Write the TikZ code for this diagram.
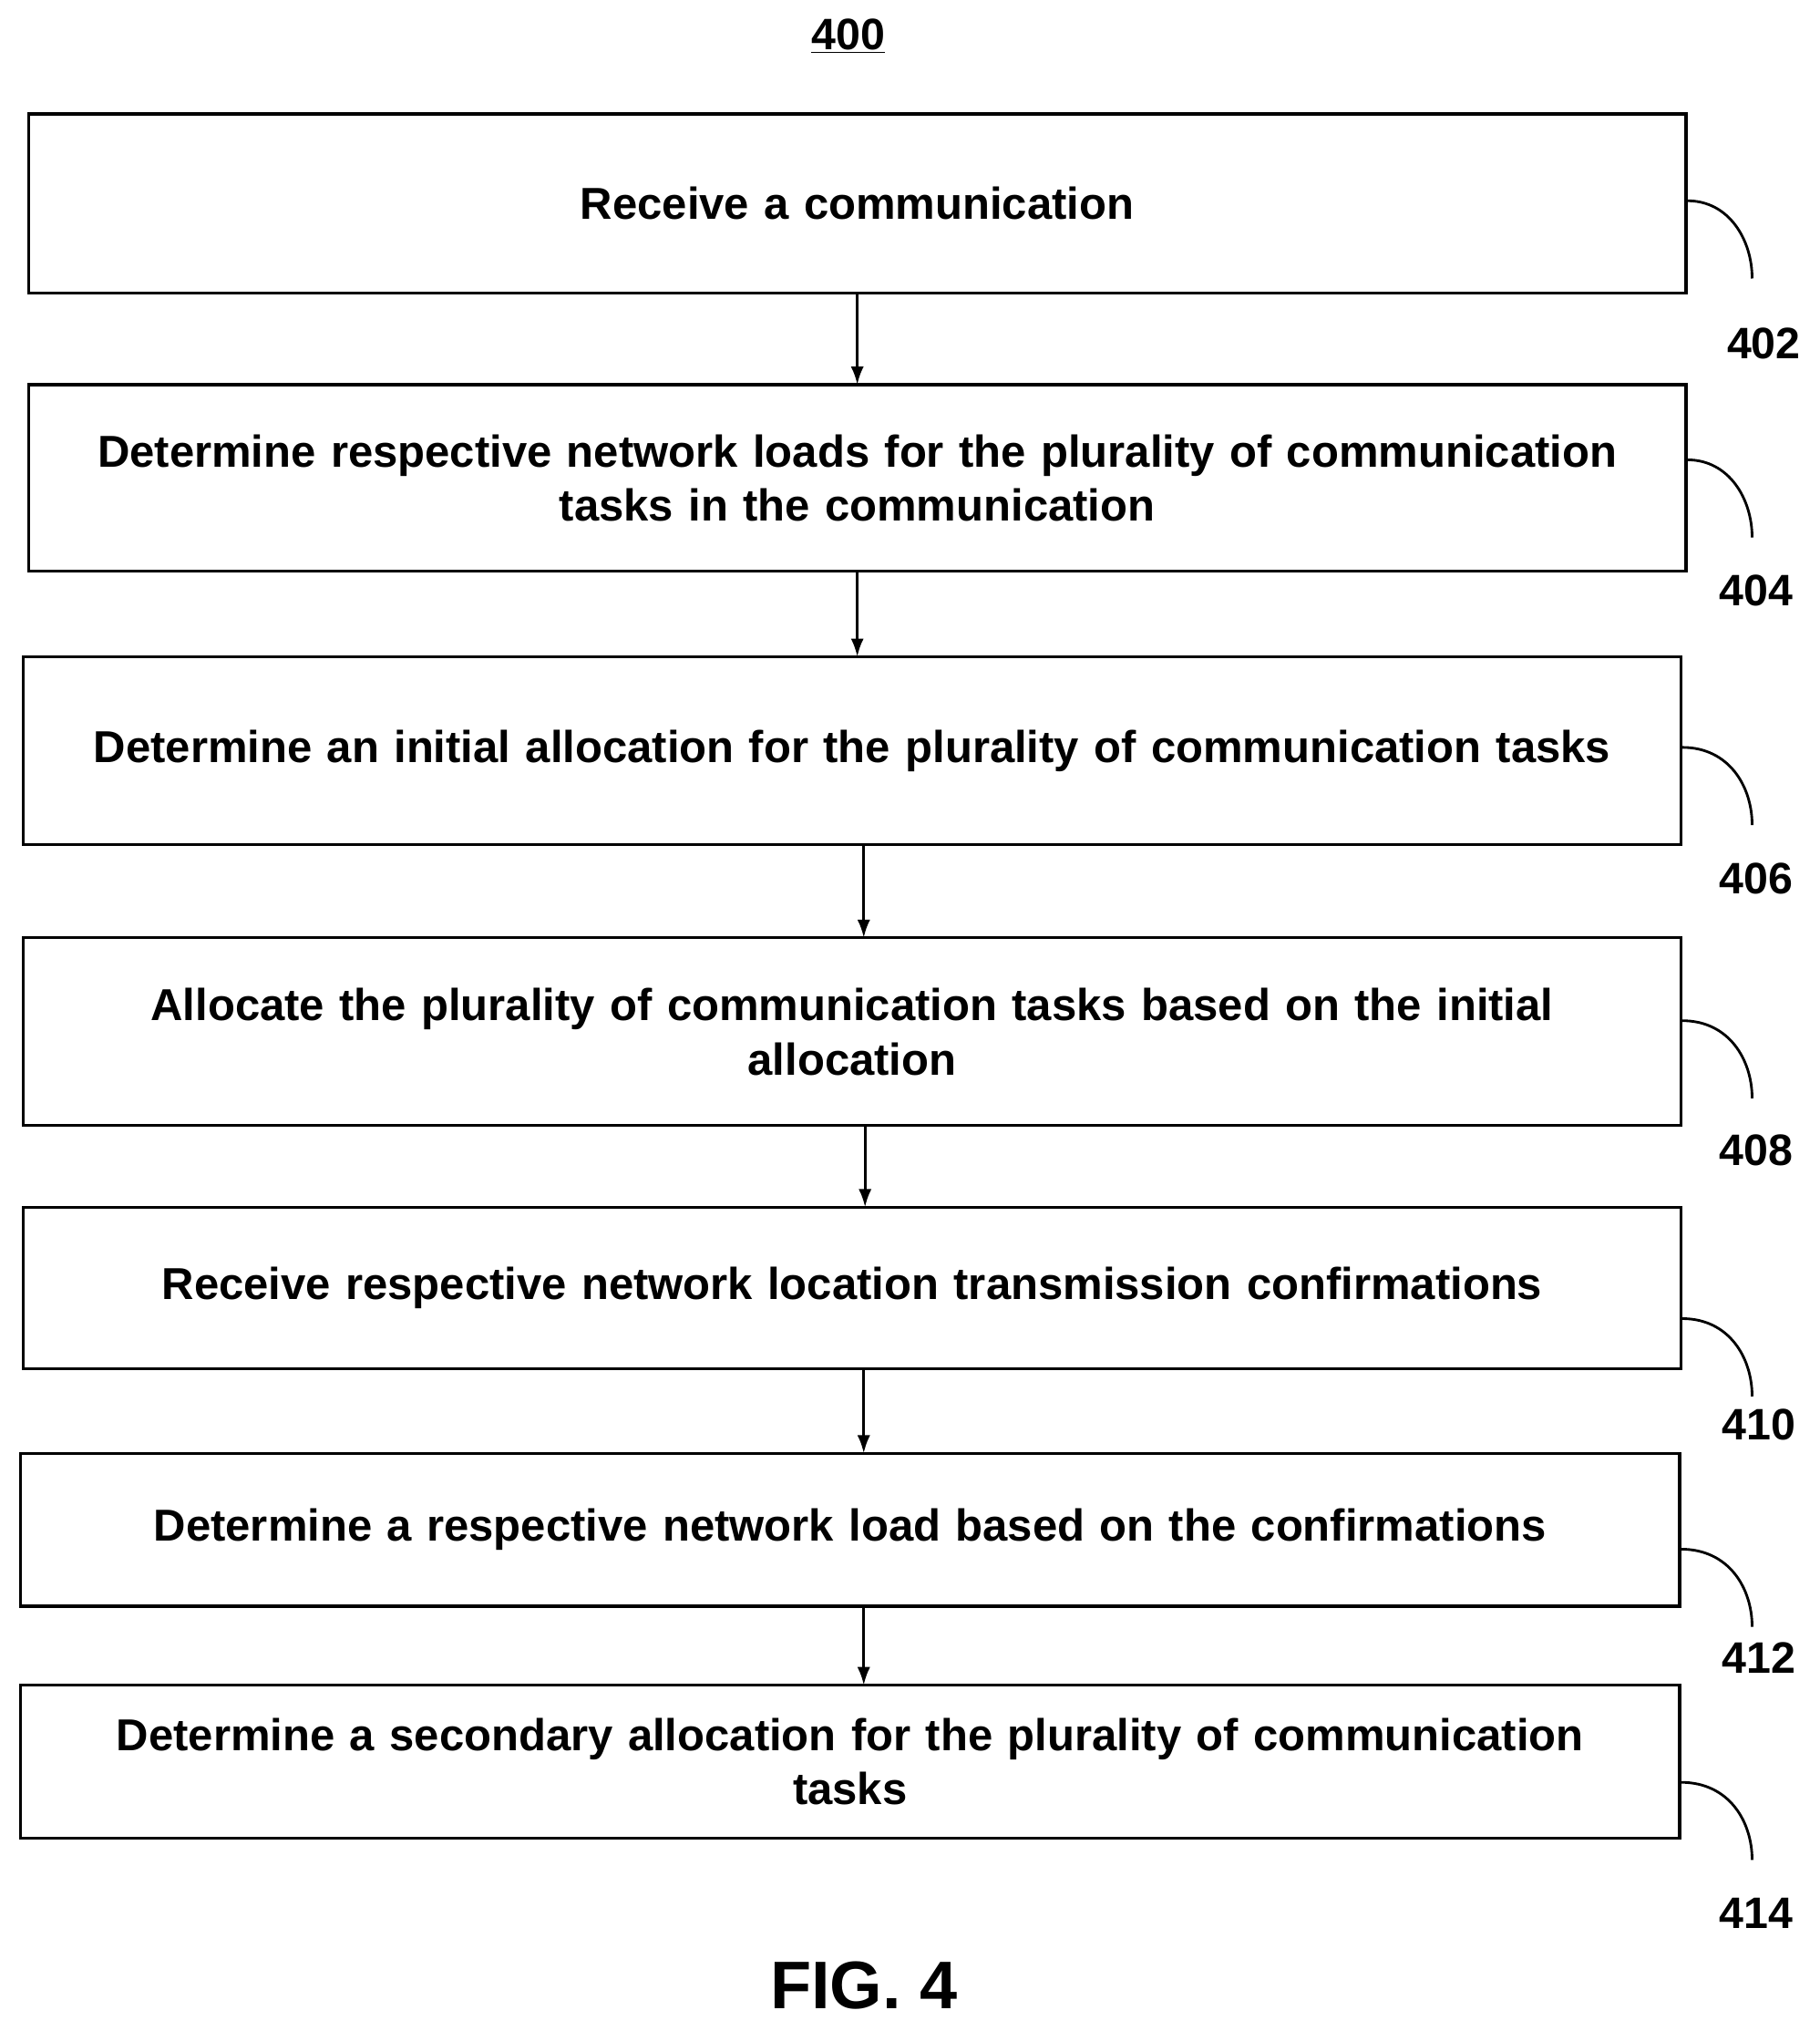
\documentclass[tikz,border=0pt]{standalone}
\usepackage{fontspec}
\setmainfont{Liberation Sans}
\usetikzlibrary{arrows.meta}
\begin{document}
\begin{tikzpicture}[x=1pt,y=-1pt,
  box/.style={draw,line width=2.2pt,inner sep=0pt},
  txt/.style={font=\fontsize{34.5}{42}\selectfont\bfseries,align=center,text width=1270pt},
  lbl/.style={font=\fontsize{34}{40}\selectfont\bfseries},
  arr/.style={-{Latex[length=14pt,width=10pt]},line width=2pt},
  hook/.style={line width=2pt}]
\useasboundingbox (0,0) rectangle (1405,1568);
\node (t) at (655,28) {\fontsize{34}{40}\selectfont\bfseries\underline{400}};
\node[box,minimum width=1280pt,minimum height=138pt] (b1) at (662,157) {};
\node[txt] at (b1) {Receive a communication};
\node[box,minimum width=1280pt,minimum height=144pt] (b2) at (662,369) {};
\node[txt] at (b2) {Determine respective network loads for the plurality of communication\\tasks in the communication};
\node[box,minimum width=1280pt,minimum height=145pt] (b3) at (658,579.5) {};
\node[txt] at (b3) {Determine an initial allocation for the plurality of communication tasks};
\node[box,minimum width=1280pt,minimum height=145pt] (b4) at (658,796.5) {};
\node[txt] at (b4) {Allocate the plurality of communication tasks based on the initial\\allocation};
\node[box,minimum width=1280pt,minimum height=125pt] (b5) at (658,994.5) {};
\node[txt] at (b5) {Receive respective network location transmission confirmations};
\node[box,minimum width=1281pt,minimum height=118pt] (b6) at (656.5,1181) {};
\node[txt] at (b6) {Determine a respective network load based on the confirmations};
\node[box,minimum width=1281pt,minimum height=118pt] (b7) at (656.5,1360) {};
\node[txt] at (b7) {Determine a secondary allocation for the plurality of communication\\tasks};
\draw[arr] (b1.south -| 662,0) -- (662,297);
\draw[arr] (b2.south -| 662,0) -- (662,507);
\draw[arr] (b3.south -| 667,0) -- (667,724);
\draw[arr] (b4.south -| 668,0) -- (668,932);
\draw[arr] (b5.south -| 667,0) -- (667,1122);
\draw[arr] (b6.south -| 667,0) -- (667,1301);
\foreach \n/\ya/\yb/\xl/\yl/\tx in {1/155/215/1362/265/402,2/355/415/1356/456/404,3/577/637/1356/678/406,4/788/848/1356/888/408,5/1018/1078/1358/1100/410,6/1196/1256/1358/1280/412,7/1376/1436/1356/1477/414}{
  \draw[hook] (b\n.east |- 0,\ya) .. controls (1335,\ya) and (1353,\yb-30) .. (1353,\yb);
  \node[lbl] (l\n) at (\xl,\yl) {\tx};
}
\node[font=\fontsize{52}{60}\selectfont\bfseries] (fig) at (667,1533) {FIG. 4};
\end{tikzpicture}
\end{document}
